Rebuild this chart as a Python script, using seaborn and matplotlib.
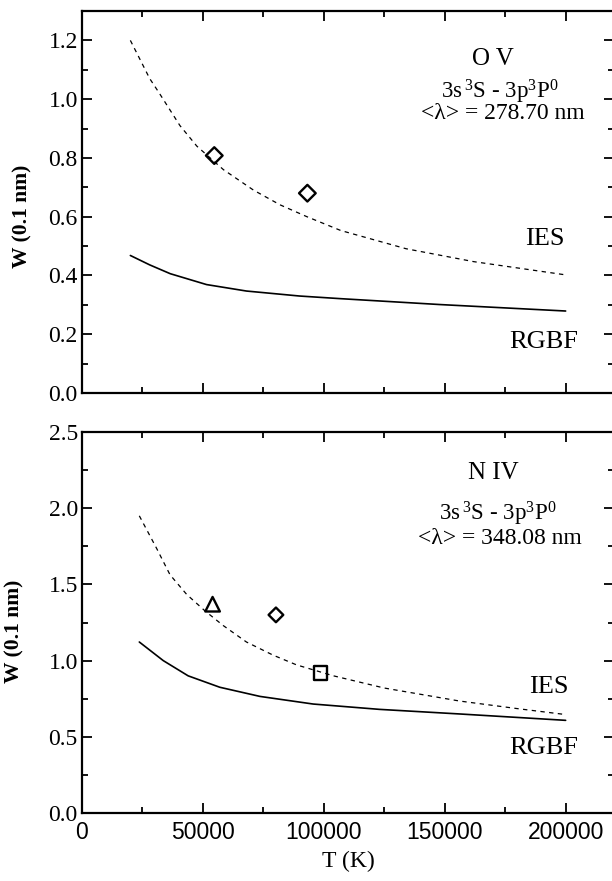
import numpy as np
import pandas as pd
import seaborn as sns
import matplotlib
matplotlib.use("Agg")
import matplotlib.pyplot as plt
from matplotlib.ticker import MultipleLocator, FormatStrFormatter

# ---- O V 3s3S - 3p3P0 (278.70 nm) ----
t_ov_ies = [20000, 28000, 32000, 40500, 47500, 58500, 71000, 82000, 93000,
            107000, 134000, 162000, 200000]
w_ov_ies = [1.20, 1.07, 1.02, 0.91, 0.84, 0.76, 0.69, 0.64, 0.60,
            0.553, 0.491, 0.447, 0.402]
t_ov_rgbf = [20000, 28000, 36500, 51500, 68000, 90000, 107000, 148000, 200000]
w_ov_rgbf = [0.468, 0.436, 0.406, 0.369, 0.347, 0.330, 0.321, 0.301, 0.279]
t_ov_exp = [54700, 93200]
w_ov_exp = [0.808, 0.680]

# ---- N IV 3s3S - 3p3P0 (348.08 nm) ----
t_niv_ies = [23700, 30900, 36400, 43300, 50800, 58400, 68000, 79000, 88700,
             104000, 125000, 156000, 180000, 200000]
w_niv_ies = [1.95, 1.735, 1.563, 1.434, 1.327, 1.230, 1.122, 1.036, 0.972,
             0.900, 0.820, 0.735, 0.685, 0.646]
t_niv_rgbf = [23700, 33600, 43900, 57000, 73600, 95600, 123000, 156000, 200000]
w_niv_rgbf = [1.122, 1.000, 0.900, 0.825, 0.765, 0.715, 0.680, 0.650, 0.608]
t_niv_tri = [54000]
w_niv_tri = [1.37]
t_niv_dia = [80200]
w_niv_dia = [1.30]
t_niv_sq = [98600]
w_niv_sq = [0.918]

x_ticks = [0, 50000, 100000, 150000, 200000]

sns.set_style("ticks")
plt.rcParams["font.family"] = ["Liberation Serif", "DejaVu Serif"]
plt.rcParams["mathtext.fontset"] = "custom"
plt.rcParams["mathtext.rm"] = "Liberation Serif"
plt.rcParams["mathtext.it"] = "Liberation Serif:italic"
plt.rcParams["mathtext.bf"] = "Liberation Serif:bold"
for key in ("text.color", "axes.labelcolor", "xtick.color", "ytick.color",
            "axes.edgecolor"):
    plt.rcParams[key] = "black"

W, H = 612, 881
fig = plt.figure(figsize=(W / 100, H / 100), dpi=100)

def frac_box(left, top, right, bottom):
    return [left / W, 1 - bottom / H, (right - left) / W, (bottom - top) / H]

ax1 = fig.add_axes(frac_box(82, 11, 614, 393))
ax2 = fig.add_axes(frac_box(82, 432, 614, 813))

dash = (0, (3.5, 3.5))

def curves(ax, t_ies, w_ies, t_rg, w_rg):
    sns.lineplot(x=t_ies, y=w_ies, ax=ax, color="black", lw=0.9,
                 linestyle=dash, estimator=None, sort=False)
    sns.lineplot(x=t_rg, y=w_rg, ax=ax, color="black", lw=1.2,
                 estimator=None, sort=False)

def open_markers(ax, t, w, marker, size):
    sns.scatterplot(x=t, y=w, ax=ax, marker=marker, s=size, color="black",
                    linewidth=1.7, zorder=5)
    coll = ax.collections[-1]
    coll.set_facecolor("none")
    coll.set_edgecolor("black")

curves(ax1, t_ov_ies, w_ov_ies, t_ov_rgbf, w_ov_rgbf)
open_markers(ax1, t_ov_exp, w_ov_exp, "D", 72)

curves(ax2, t_niv_ies, w_niv_ies, t_niv_rgbf, w_niv_rgbf)
open_markers(ax2, t_niv_tri, w_niv_tri, "^", 110)
open_markers(ax2, t_niv_dia, w_niv_dia, "D", 56)
open_markers(ax2, t_niv_sq, w_niv_sq, "s", 92)

for ax, ymax, ymaj in ((ax1, 1.3, 0.2), (ax2, 2.5, 0.5)):
    ax.set_xlim(0, 220000)
    ax.set_ylim(0, ymax)
    ax.xaxis.set_major_locator(MultipleLocator(50000))
    ax.xaxis.set_minor_locator(MultipleLocator(25000))
    ax.yaxis.set_major_locator(MultipleLocator(ymaj))
    ax.yaxis.set_minor_locator(MultipleLocator(ymaj / 2))
    ax.tick_params(which="both", direction="in", top=True, right=True,
                   width=1.3, colors="black")
    ax.tick_params(which="major", length=7)
    ax.tick_params(which="minor", length=4.5)
    ax.tick_params(axis="y", labelsize=17, pad=3)
    for sp in ax.spines.values():
        sp.set_linewidth(1.6)
        sp.set_color("black")
    ax.yaxis.set_major_formatter(FormatStrFormatter("%.1f"))
    ax.set_ylabel("W (0.1 nm)", fontsize=15.5, fontweight="bold")

ax1.tick_params(axis="x", labelbottom=False)
ax1.set_xlabel("")
ax2.set_xticks(x_ticks)
ax2.set_xticklabels([str(v) for v in x_ticks], family="Liberation Sans",
                    fontsize=16.5)
ax2.tick_params(axis="x", pad=6)
ax2.set_xlabel("T (K)", fontsize=17, labelpad=5)

ax1.yaxis.set_label_coords(-0.094, 0.463)
ax2.yaxis.set_label_coords(-0.109, 0.478)

# annotations
ax1.text(170000, 1.135, "O V", ha="center", va="center", fontsize=18)
ax1.text(172700, 1.025, r"3s$\,^3$S - 3p$^3$P$^0$", ha="center", va="center",
         fontsize=16.5)
ax1.text(174000, 0.95, "<λ> = 278.70 nm", ha="center", va="center",
         fontsize=17)
ax1.text(191200, 0.524, "IES", ha="center", va="center", fontsize=19)
ax1.text(191000, 0.175, "RGBF", ha="center", va="center", fontsize=19)

ax2.text(170000, 2.23, "N IV", ha="center", va="center", fontsize=18)
ax2.text(172000, 1.965, r"3s$\,^3$S - 3p$^3$P$^0$", ha="center", va="center",
         fontsize=16.5)
ax2.text(172700, 1.80, "<λ> = 348.08 nm", ha="center", va="center",
         fontsize=17)
ax2.text(193000, 0.828, "IES", ha="center", va="center", fontsize=19)
ax2.text(191100, 0.425, "RGBF", ha="center", va="center", fontsize=19)

fig.savefig("out.png", dpi=100, facecolor="white")
